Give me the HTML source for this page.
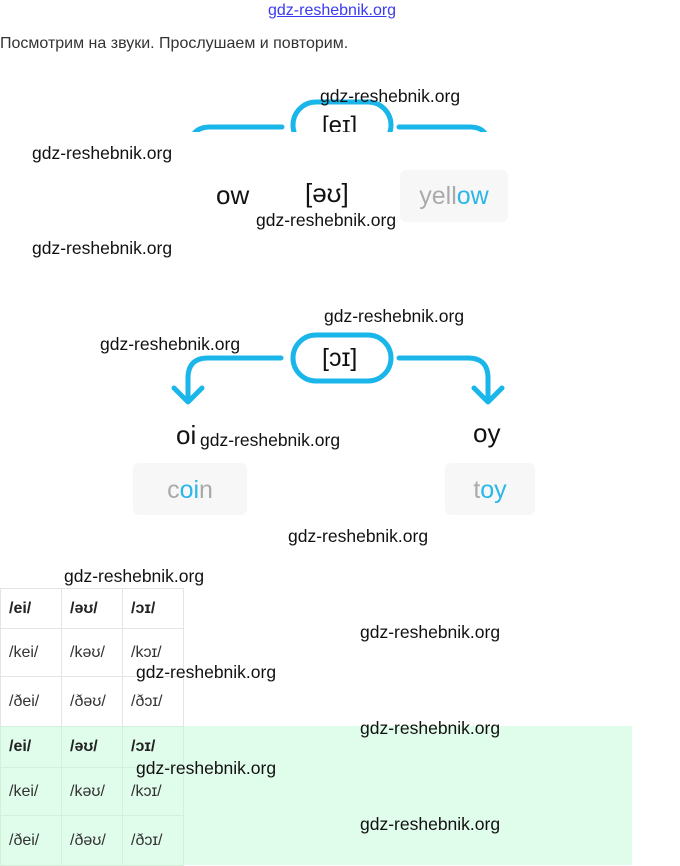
<!DOCTYPE html>
<html><head><meta charset="utf-8"><style>
body{margin:0;width:680px;height:865px;position:relative;background:#fff;font-family:"Liberation Sans",sans-serif;overflow:hidden}
.a{position:absolute;white-space:nowrap}
.wm{position:absolute;font-size:17.5px;color:#111;white-space:nowrap}
.big{font-size:26px;color:#111}
.box{position:absolute;background:#f7f7f7;border-radius:6px;font-size:25px;color:#aaa;text-align:center}
.box span{color:#29b6e8}
table{position:absolute;left:0;border-collapse:collapse;font-size:16px;color:#333}
td{border:1px solid #e4e4e4;width:61px;padding:0 0 0 8px;box-sizing:border-box}
.h td{font-weight:bold;color:#222}
</style></head><body>
<div class="a" style="left:268px;top:2px;font-size:16px;color:#3a3af0;text-decoration:underline">gdz-reshebnik.org</div>
<div class="a" style="left:0;top:35px;font-size:16px;color:#333">Посмотрим на звуки. Прослушаем и повторим.</div>
<svg class="a" style="left:0;top:0" width="680" height="420">
<defs><clipPath id="c"><rect x="0" y="0" width="680" height="132"/></clipPath></defs>
<g clip-path="url(#c)" fill="none" stroke="#1ab6ea" stroke-width="5" stroke-linecap="round">
<rect x="293" y="102" width="98" height="46" rx="23"/>
<path d="M282 127 H210 Q192 127 190 145"/>
<path d="M399 127 H470 Q488 127 488 145"/>
</g>
<g fill="none" stroke="#1ab6ea" stroke-width="5" stroke-linecap="round" stroke-linejoin="round">
<rect x="293" y="335" width="98" height="46" rx="23"/>
<path d="M281 358 H208 Q188 358 188 378 V400"/>
<path d="M174 388 L188 402 L202 388"/>
<path d="M399 358 H468 Q488 358 488 378 V400"/>
<path d="M474 388 L488 402 L502 388"/>
</g>
</svg>
<div class="a" style="left:322px;top:112px;font-size:24px;color:#111;height:20px;overflow:hidden">[eɪ]</div>
<div class="a" style="left:322px;top:344px;font-size:25px;color:#111">[ɔɪ]</div>
<div class="a big" style="left:216px;top:180px">ow</div>
<div class="a big" style="left:305px;top:178px">[əʊ]</div>
<div class="box" style="left:400px;top:170px;width:108px;height:52px;line-height:52px">yell<span>ow</span></div>
<div class="a big" style="left:176px;top:420px">oi</div>
<div class="a big" style="left:473px;top:418px">oy</div>
<div class="box" style="left:133px;top:463px;width:114px;height:52px;line-height:54px">c<span>oi</span>n</div>
<div class="box" style="left:445px;top:463px;width:90px;height:52px;line-height:54px">t<span>oy</span></div>
<div style="position:absolute;left:0;top:726px;width:632px;height:139px;background:#e0fceb"></div>
<table style="top:588px">
<tr class="h" style="height:40px"><td>/ei/</td><td>/əʊ/</td><td>/ɔɪ/</td></tr>
<tr style="height:48px"><td>/kei/</td><td>/kəʊ/</td><td>/kɔɪ/</td></tr>
<tr style="height:50px"><td>/ðei/</td><td>/ðəʊ/</td><td>/ðɔɪ/</td></tr>
</table>
<table style="top:726px">
<tr class="h" style="height:41px"><td style="border-color:#d4f0dd">/ei/</td><td style="border-color:#d4f0dd">/əʊ/</td><td style="border-color:#d4f0dd">/ɔɪ/</td></tr>
<tr style="height:48px"><td style="border-color:#d4f0dd">/kei/</td><td style="border-color:#d4f0dd">/kəʊ/</td><td style="border-color:#d4f0dd">/kɔɪ/</td></tr>
<tr style="height:50px"><td style="border-color:#d4f0dd">/ðei/</td><td style="border-color:#d4f0dd">/ðəʊ/</td><td style="border-color:#d4f0dd">/ðɔɪ/</td></tr>
</table>
<div class="wm" style="left:320px;top:86px">gdz-reshebnik.org</div>
<div class="wm" style="left:32px;top:143px">gdz-reshebnik.org</div>
<div class="wm" style="left:256px;top:210px">gdz-reshebnik.org</div>
<div class="wm" style="left:32px;top:238px">gdz-reshebnik.org</div>
<div class="wm" style="left:324px;top:306px">gdz-reshebnik.org</div>
<div class="wm" style="left:100px;top:334px">gdz-reshebnik.org</div>
<div class="wm" style="left:200px;top:430px">gdz-reshebnik.org</div>
<div class="wm" style="left:288px;top:526px">gdz-reshebnik.org</div>
<div class="wm" style="left:64px;top:566px">gdz-reshebnik.org</div>
<div class="wm" style="left:360px;top:622px">gdz-reshebnik.org</div>
<div class="wm" style="left:136px;top:662px">gdz-reshebnik.org</div>
<div class="wm" style="left:360px;top:718px">gdz-reshebnik.org</div>
<div class="wm" style="left:136px;top:758px">gdz-reshebnik.org</div>
<div class="wm" style="left:360px;top:814px">gdz-reshebnik.org</div>
</body></html>
